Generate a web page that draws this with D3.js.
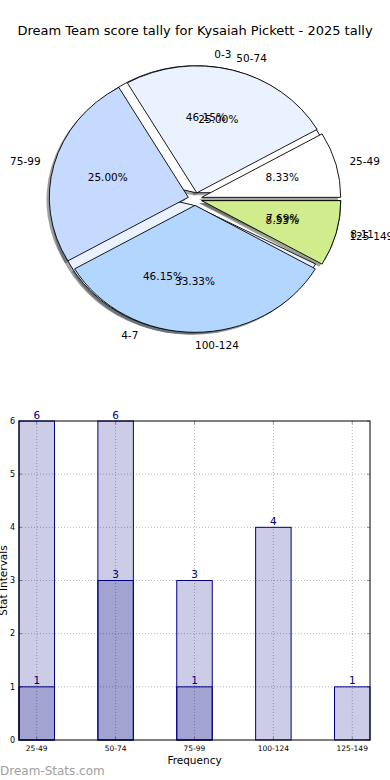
<!DOCTYPE html>
<html>
<head>
<meta charset="utf-8">
<script src="https://cdn.jsdelivr.net/npm/d3@7"></script>
<style>
html,body{margin:0;padding:0;background:#fff;}
svg{display:block;font-family:"DejaVu Sans",sans-serif;}
</style>
</head>
<body>
<svg id="c" width="390" height="780"></svg>
<script>
const title = "Dream Team score tally for Kysaiah Pickett - 2025 tally";
// back pie (score buckets)
const pie1Labels = ["0-3", "4-7", "8-11"];
const pie1Values = [6, 6, 1];
// front pie (frequency buckets)
const pie2Labels = ["25-49", "50-74", "75-99", "100-124", "125-149"];
const pie2Values = [1, 3, 3, 4, 1];
const pieColors = ["#ffffff", "#eaf2ff", "#c6d9ff", "#b3d6ff", "#d1ec8c"];
// bar chart
const barCategories = ["25-49", "50-74", "75-99", "100-124", "125-149"];
const seriesA = [6, 6, 3, 4, 1];
const seriesB = [1, 3, 1, 0, 0];
const yTicks = [0, 1, 2, 3, 4, 5, 6];

const svg = d3.select("#c");

svg.append("text").attr("x", 195).attr("y", 34.5).attr("text-anchor", "middle")
  .attr("font-size", 13).attr("fill", "#000").text(title);

// ---------- PIE ----------
const cx = 195, cy = 199, rx = 139, ry = 127, ex = 0.05;
const pieGen = d3.pie().sort(null).value(d => d)
  .startAngle(Math.PI / 2).endAngle(Math.PI / 2 - 2 * Math.PI);
const arc = d3.arc().innerRadius(0).outerRadius(1);
const p1 = pieGen(pie1Values), p2 = pieGen(pie2Values);
const pg = svg.append("g").attr("transform", `translate(${cx},${cy}) scale(${rx},${ry})`);

function off(d, k) {
  const m = (d.startAngle + d.endAngle) / 2;
  return [k * Math.sin(m), -k * Math.cos(m)];
}
function shade(c) {
  const r = d3.rgb(c);
  return d3.rgb(r.r * 0.3, r.g * 0.3, r.b * 0.3).toString();
}
// shadows
[p1, p2].forEach(ps => {
  ps.forEach((d, i) => {
    const [ox, oy] = off(d, ex);
    pg.append("path").attr("d", arc(d))
      .attr("transform", `translate(${ox - 0.02},${oy + 0.02})`)
      .attr("fill", shade(pieColors[i % pieColors.length])).attr("fill-opacity", 0.5);
  });
});
// wedges
[p1, p2].forEach(ps => {
  ps.forEach((d, i) => {
    const [ox, oy] = off(d, ex);
    pg.append("path").attr("d", arc(d))
      .attr("transform", `translate(${ox},${oy})`)
      .attr("fill", pieColors[i % pieColors.length])
      .attr("stroke", "#000").attr("stroke-width", 0.9)
      .attr("vector-effect", "non-scaling-stroke");
  });
});
function pieText(ps, labels, vals) {
  const tot = d3.sum(vals);
  ps.forEach((d, i) => {
    const [lx, ly] = off(d, ex + 1.1);
    svg.append("text").attr("x", cx + lx * rx).attr("y", cy + ly * ry)
      .attr("dy", "0.35em").attr("font-size", 10.5)
      .attr("text-anchor", lx > -1e-6 ? "start" : "end").text(labels[i]);
    const [px, py] = off(d, ex + 0.6);
    svg.append("text").attr("x", cx + px * rx).attr("y", cy + py * ry)
      .attr("dy", "0.35em").attr("font-size", 10.5).attr("text-anchor", "middle")
      .text((vals[i] / tot * 100).toFixed(2) + "%");
  });
}
pieText(p1, pie1Labels, pie1Values);
pieText(p2, pie2Labels, pie2Values);

// ---------- BARS ----------
const L = 19, R = 370, T = 421, B = 740;
const x = d3.scaleLinear().domain([-0.225, barCategories.length - 1 + 0.225]).range([L, R]);
const y = d3.scaleLinear().domain([0, 6]).range([B, T]);
const bw = x(0.45) - x(0);
const g = svg.append("g");

// grid
g.selectAll(".hg").data(yTicks.slice(1, -1)).enter().append("line")
  .attr("x1", L).attr("x2", R).attr("y1", d => y(d)).attr("y2", d => y(d))
  .attr("stroke", "#b8b8b8").attr("stroke-dasharray", "1,2");
g.selectAll(".vg").data(barCategories).enter().append("line")
  .attr("x1", (d, i) => x(i)).attr("x2", (d, i) => x(i)).attr("y1", T).attr("y2", B)
  .attr("stroke", "#b8b8b8").attr("stroke-dasharray", "1,2");
// ticks
yTicks.forEach(t => {
  g.append("line").attr("x1", L).attr("x2", L + 3).attr("y1", y(t)).attr("y2", y(t)).attr("stroke", "#999");
  g.append("line").attr("x1", R - 3).attr("x2", R).attr("y1", y(t)).attr("y2", y(t)).attr("stroke", "#999");
});
barCategories.forEach((c, i) => {
  g.append("line").attr("x1", x(i)).attr("x2", x(i)).attr("y1", B).attr("y2", B - 3).attr("stroke", "#999");
  g.append("line").attr("x1", x(i)).attr("x2", x(i)).attr("y1", T).attr("y2", T + 3).attr("stroke", "#999");
});

function bars(vals) {
  vals.forEach((v, i) => {
    if (!v) return;
    g.append("rect").attr("x", x(i) - bw / 2).attr("y", y(v)).attr("width", bw).attr("height", y(0) - y(v))
      .attr("fill", "#000080").attr("fill-opacity", 0.2)
      .attr("stroke", "#000080").attr("stroke-width", 1);
    g.append("text").attr("x", x(i)).attr("y", y(v) - 2.5).attr("text-anchor", "middle")
      .attr("font-size", 10.5).attr("fill", "#000080").text(v);
  });
}
bars(seriesA);
bars(seriesB);

// frame
g.append("rect").attr("x", L).attr("y", T).attr("width", R - L).attr("height", B - T)
  .attr("fill", "none").attr("stroke", "#000").attr("stroke-width", 1);

// axis labels
yTicks.forEach(t => {
  g.append("text").attr("x", L - 4).attr("y", y(t)).attr("dy", "0.35em").attr("text-anchor", "end")
    .attr("font-size", 8).text(t);
});
barCategories.forEach((c, i) => {
  g.append("text").attr("x", x(i)).attr("y", B + 11).attr("text-anchor", "middle")
    .attr("font-size", 7.5).text(c);
});
svg.append("text").attr("x", (L + R) / 2).attr("y", 764).attr("text-anchor", "middle")
  .attr("font-size", 10.5).text("Frequency");
svg.append("text").attr("transform", `translate(7,${(T + B) / 2}) rotate(-90)`)
  .attr("text-anchor", "middle").attr("font-size", 10.5).text("Stat Intervals");

svg.append("text").attr("x", 0).attr("y", 775).attr("font-size", 12)
  .attr("fill", "#a0a0a0").text("Dream-Stats.com");
</script>
</body>
</html>
